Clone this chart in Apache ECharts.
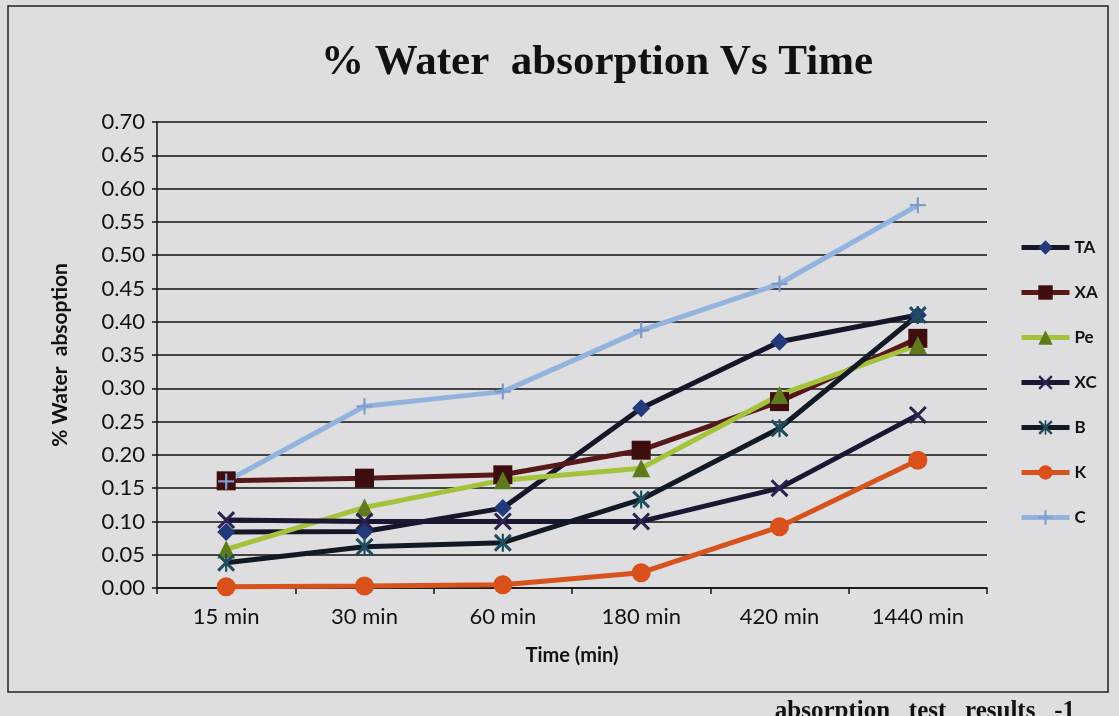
<!DOCTYPE html>
<html>
<head>
<meta charset="utf-8">
<title>% Water absorption Vs Time</title>
<script src="https://cdn.jsdelivr.net/npm/echarts@6/dist/echarts.min.js"></script>
<style>
  html, body { margin: 0; padding: 0; background: #dedee0; }
  #chart { width: 1119px; height: 716px; }
</style>
</head>
<body>
<div id="chart"></div>
<script>
// categories and values (tilt corrected)
var times = ['15 min', '30 min', '60 min', '180 min', '420 min', '1440 min'];
var yTicks = ['0.00', '0.05', '0.10', '0.15', '0.20', '0.25', '0.30', '0.35', '0.40', '0.45', '0.50', '0.55', '0.60', '0.65', '0.70'];

var TA = [0.084, 0.085, 0.120, 0.270, 0.370, 0.410];
var XA = [0.161, 0.165, 0.170, 0.207, 0.280, 0.375];
var Pe = [0.058, 0.121, 0.162, 0.180, 0.290, 0.365];
var XC = [0.102, 0.100, 0.100, 0.100, 0.150, 0.260];
var B  = [0.038, 0.062, 0.068, 0.133, 0.240, 0.410];
var K  = [0.002, 0.003, 0.005, 0.023, 0.092, 0.192];
var C  = [0.160, 0.273, 0.295, 0.387, 0.457, 0.575];

// marker shapes not built into echarts
var symX = 'path://M0,1.2 L1.2,0 L10,8.8 L8.8,10 Z M8.8,0 L10,1.2 L1.2,10 L0,8.8 Z';
var symStar = 'path://M0,1.2 L1.2,0 L10,8.8 L8.8,10 Z M8.8,0 L10,1.2 L1.2,10 L0,8.8 Z M4.4,0 L5.6,0 L5.6,10 L4.4,10 Z';
var symPlus = 'path://M4.3,0 L5.7,0 L5.7,10 L4.3,10 Z M0,4.3 L10,4.3 L10,5.7 L0,5.7 Z';

var fontSans = 'Lato, "Open Sans", sans-serif';

function mk(name, data, lineColor, markColor, symbol, size) {
  return {
    name: name,
    type: 'line',
    data: data,
    symbol: symbol,
    symbolSize: size,
    symbolKeepAspect: true,
    showAllSymbol: true,
    lineStyle: { color: lineColor, width: 5 },
    itemStyle: { color: markColor, borderColor: markColor, borderWidth: 0 },
    emphasis: { disabled: true },
    animation: false
  };
}

var chart = echarts.init(document.getElementById('chart'), null, { renderer: 'canvas' });

chart.setOption({
  backgroundColor: '#dedee0',
  title: {
    text: '% Water  absorption Vs Time',
    left: 592,
    top: 36,
    textAlign: 'center',
    textStyle: {
      fontFamily: '"Liberation Serif", "DejaVu Serif", serif',
      fontWeight: 'bold',
      fontSize: 43,
      color: '#111'
    }
  },
  legend: {
    orient: 'vertical',
    left: 1014,
    top: 234,
    itemWidth: 48,
    itemHeight: 18,
    itemGap: 28,
    lineStyle: { width: 5 },
    textStyle: { fontFamily: fontSans, fontWeight: 'bold', fontSize: 17, color: '#111', padding: [0, 0, 0, 0] },
    data: ['TA', 'XA', 'Pe', 'XC', 'B', 'K', 'C']
  },
  grid: { left: 157, right: 132, top: 122, bottom: 128 },
  xAxis: {
    type: 'category',
    data: times,
    boundaryGap: true,
    name: 'Time (min)',
    nameLocation: 'middle',
    nameGap: 58,
    nameTextStyle: { fontFamily: fontSans, fontWeight: 'bold', fontSize: 20, color: '#111' },
    axisLine: { lineStyle: { color: '#111', width: 1.5 } },
    axisTick: { show: true, alignWithLabel: false, length: 6, lineStyle: { color: '#111', width: 1.5 } },
    axisLabel: { fontFamily: fontSans, fontSize: 22, color: '#111', margin: 18 }
  },
  yAxis: {
    type: 'value',
    min: 0,
    max: 0.70,
    interval: 0.05,
    name: '% Water  absoption',
    nameLocation: 'middle',
    nameGap: 86,
    nameTextStyle: { fontFamily: fontSans, fontWeight: 'bold', fontSize: 21, color: '#111' },
    axisLine: { show: true, lineStyle: { color: '#111', width: 1.5 } },
    axisTick: { show: true, length: 5, lineStyle: { color: '#111', width: 1.5 } },
    splitLine: { lineStyle: { color: '#111', width: 1.6 } },
    axisLabel: {
      fontFamily: fontSans, fontSize: 22, color: '#111', margin: 12,
      formatter: function (v) { return yTicks[Math.round(v / 0.05)]; }
    }
  },
  graphic: [
    {
      type: 'rect',
      shape: { x: 8, y: 6, width: 1100, height: 686 },
      style: { fill: 'none', stroke: '#222', lineWidth: 1.5 },
      silent: true
    },
    {
      type: 'text',
      right: 44,
      top: 699,
      style: {
        text: 'absorption   test   results   -1',
        font: 'bold 25px "Liberation Serif", serif',
        fill: '#111'
      },
      silent: true
    }
  ],
  series: [
    mk('TA', TA, '#16162a', '#22397a', 'diamond', 18),
    mk('XA', XA, '#561818', '#3e0e0e', 'rect', 19),
    mk('Pe', Pe, '#a4c23c', '#5e7a1c', 'triangle', 18),
    mk('XC', XC, '#1b1632', '#2a2352', symX, 18),
    mk('B', B, '#111a24', '#1f4d5e', symStar, 18),
    mk('K', K, '#d7531d', '#d9501a', 'circle', 19),
    mk('C', C, '#93b3de', '#7d9ccc', symPlus, 16)
  ]
});
</script>
</body>
</html>
